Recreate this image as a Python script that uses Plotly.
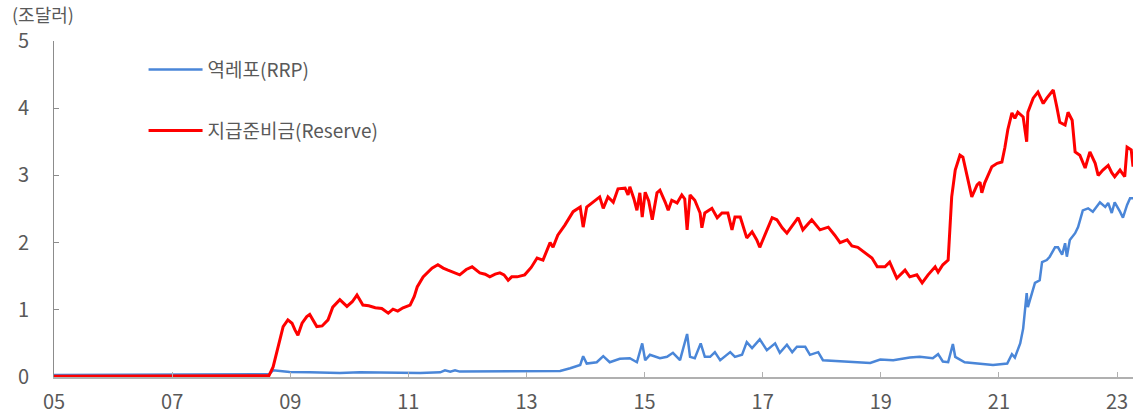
import plotly.graph_objects as go

# Time axis in decimal years
rrp_t = [2005.0, 2005.5, 2006.0, 2006.5, 2007.0, 2007.5, 2008.0, 2008.6,
         2008.64, 2008.71, 2008.79, 2008.99, 2009.33, 2009.84, 2010.18, 2010.69,
         2011.20, 2011.54, 2011.62, 2011.71, 2011.79, 2011.87, 2012.55, 2013.06,
         2013.57, 2013.74, 2013.91, 2013.96, 2014.02, 2014.19, 2014.30, 2014.41,
         2014.58, 2014.75, 2014.87, 2014.96, 2015.01, 2015.09, 2015.26, 2015.38,
         2015.48, 2015.60, 2015.72, 2015.77, 2015.85, 2015.95, 2016.02, 2016.11,
         2016.19, 2016.28, 2016.45, 2016.53, 2016.65, 2016.73, 2016.82, 2016.95,
         2017.07, 2017.21, 2017.29, 2017.41, 2017.50, 2017.58, 2017.72, 2017.80,
         2017.94, 2018.02, 2018.19, 2018.48, 2018.82, 2018.99, 2019.21, 2019.49,
         2019.66, 2019.88, 2019.97, 2020.05, 2020.14, 2020.22, 2020.26, 2020.42,
         2020.68, 2020.90, 2021.14, 2021.22, 2021.27, 2021.36, 2021.41, 2021.47,
         2021.49, 2021.56, 2021.61, 2021.69, 2021.73, 2021.81, 2021.86, 2021.95,
         2022.00, 2022.07, 2022.12, 2022.15, 2022.20, 2022.29, 2022.34, 2022.42,
         2022.51, 2022.59, 2022.71, 2022.80, 2022.85, 2022.91, 2022.96, 2023.05,
         2023.10, 2023.17, 2023.22, 2023.27]
# Reverse repo balance (trillion USD)
rrp_v = [0.03, 0.03, 0.03, 0.03, 0.03, 0.03, 0.03, 0.03,
         0.04, 0.10, 0.09, 0.075, 0.07, 0.06, 0.07, 0.06,
         0.06, 0.07, 0.10, 0.08, 0.10, 0.08, 0.08, 0.09,
         0.09, 0.13, 0.18, 0.31, 0.20, 0.22, 0.31, 0.22,
         0.27, 0.28, 0.22, 0.50, 0.25, 0.33, 0.28, 0.30,
         0.36, 0.25, 0.64, 0.30, 0.28, 0.50, 0.30, 0.30,
         0.37, 0.25, 0.37, 0.30, 0.33, 0.52, 0.43, 0.56,
         0.40, 0.50, 0.36, 0.48, 0.37, 0.45, 0.45, 0.33,
         0.37, 0.25, 0.24, 0.22, 0.21, 0.26, 0.25, 0.29,
         0.30, 0.28, 0.34, 0.23, 0.22, 0.49, 0.30, 0.22,
         0.20, 0.18, 0.20, 0.34, 0.29, 0.50, 0.72, 1.25,
         1.04, 1.25, 1.40, 1.44, 1.71, 1.74, 1.79, 1.93,
         1.93, 1.82, 1.99, 1.79, 2.04, 2.14, 2.23, 2.48,
         2.51, 2.46, 2.60, 2.53, 2.59, 2.44, 2.60, 2.46,
         2.37, 2.56, 2.66, 2.66]

res_t = [2005.0, 2005.5, 2006.0, 2006.5, 2007.0, 2007.5, 2008.0, 2008.5, 2008.64,
         2008.71, 2008.79, 2008.88, 2008.96, 2009.03, 2009.08, 2009.13, 2009.20,
         2009.28, 2009.33, 2009.40, 2009.45, 2009.54, 2009.64, 2009.72, 2009.84,
         2009.96, 2010.05, 2010.13, 2010.23, 2010.33, 2010.44, 2010.55, 2010.66,
         2010.74, 2010.82, 2010.91, 2011.03, 2011.10, 2011.15, 2011.25, 2011.40,
         2011.50, 2011.59, 2011.67, 2011.77, 2011.87, 2011.98, 2012.08, 2012.21,
         2012.30, 2012.38, 2012.47, 2012.55, 2012.62, 2012.69, 2012.75, 2012.84,
         2012.97, 2013.08, 2013.18, 2013.28, 2013.40, 2013.45, 2013.53, 2013.65,
         2013.79, 2013.91, 2013.96, 2014.02, 2014.13, 2014.24, 2014.30, 2014.38,
         2014.47, 2014.55, 2014.67, 2014.72, 2014.75, 2014.82, 2014.87, 2014.92,
         2014.96, 2015.01, 2015.07, 2015.13, 2015.21, 2015.26, 2015.35, 2015.40,
         2015.46, 2015.55, 2015.63, 2015.68, 2015.72, 2015.77, 2015.85, 2015.94,
         2015.97, 2016.02, 2016.14, 2016.23, 2016.31, 2016.41, 2016.48, 2016.53,
         2016.62, 2016.73, 2016.82, 2016.90, 2016.95, 2017.04, 2017.16, 2017.24,
         2017.33, 2017.41, 2017.51, 2017.60, 2017.68, 2017.83, 2017.97, 2018.11,
         2018.22, 2018.31, 2018.43, 2018.51, 2018.61, 2018.73, 2018.85, 2018.94,
         2019.07, 2019.15, 2019.27, 2019.41, 2019.49, 2019.61, 2019.70, 2019.80,
         2019.92, 2019.97, 2020.05, 2020.14, 2020.20, 2020.26, 2020.34, 2020.39,
         2020.46, 2020.54, 2020.63, 2020.68, 2020.71, 2020.76, 2020.88, 2020.97,
         2021.05, 2021.10, 2021.15, 2021.22, 2021.27, 2021.32, 2021.41, 2021.47,
         2021.49, 2021.58, 2021.66, 2021.75, 2021.81, 2021.92, 2021.98, 2022.03,
         2022.12, 2022.17, 2022.24, 2022.29, 2022.37, 2022.46, 2022.54, 2022.63,
         2022.68, 2022.76, 2022.85, 2022.91, 2022.96, 2023.05, 2023.13, 2023.17,
         2023.24, 2023.27]
# Bank reserves (trillion USD)
res_v = [0.01, 0.01, 0.02, 0.01, 0.02, 0.01, 0.02, 0.01, 0.02,
         0.15, 0.45, 0.75, 0.85, 0.80, 0.70, 0.62, 0.80,
         0.90, 0.93, 0.82, 0.75, 0.76, 0.85, 1.04, 1.15,
         1.05, 1.12, 1.22, 1.07, 1.06, 1.03, 1.02, 0.95,
         1.01, 0.98, 1.03, 1.07, 1.20, 1.34, 1.49, 1.62,
         1.67, 1.62, 1.59, 1.56, 1.52, 1.60, 1.64, 1.55,
         1.53, 1.49, 1.53, 1.55, 1.52, 1.44, 1.49, 1.49,
         1.52, 1.63, 1.77, 1.74, 2.00, 1.93, 2.11, 2.26,
         2.46, 2.53, 2.23, 2.53, 2.60, 2.68, 2.51, 2.68,
         2.60, 2.80, 2.81, 2.71, 2.83, 2.65, 2.48, 2.74,
         2.38, 2.75, 2.62, 2.34, 2.74, 2.78, 2.60, 2.48,
         2.63, 2.59, 2.71, 2.65, 2.19, 2.71, 2.63, 2.44,
         2.22, 2.44, 2.51, 2.37, 2.44, 2.44, 2.19, 2.38,
         2.38, 2.07, 2.16, 2.04, 1.93, 2.11, 2.37, 2.34,
         2.22, 2.14, 2.26, 2.37, 2.19, 2.34, 2.19, 2.23,
         2.11, 2.00, 2.04, 1.95, 1.93, 1.85, 1.77, 1.64,
         1.64, 1.71, 1.47, 1.59, 1.49, 1.52, 1.40, 1.52,
         1.64, 1.56, 1.67, 1.74, 2.68, 3.08, 3.30, 3.27,
         2.98, 2.68, 2.86, 2.90, 2.74, 2.89, 3.13, 3.18,
         3.20, 3.41, 3.68, 3.93, 3.85, 3.94, 3.87, 3.50,
         3.94, 4.15, 4.24, 4.07, 4.15, 4.27, 4.02, 3.79,
         3.75, 3.94, 3.82, 3.35, 3.30, 3.11, 3.35, 3.18,
         3.00, 3.08, 3.15, 3.04, 2.98, 3.08, 2.98, 3.42,
         3.38, 3.13]

x_ticks = [2005, 2007, 2009, 2011, 2013, 2015, 2017, 2019, 2021, 2023]
x_labels = ["05", "07", "09", "11", "13", "15", "17", "19", "21", "23"]
y_ticks = [0, 1, 2, 3, 4, 5]

FONT = "Noto Sans CJK KR, Noto Sans, sans-serif"
GRAY = "#595959"

fig = go.Figure()
fig.add_trace(go.Scatter(x=rrp_t, y=rrp_v, mode="lines", name="역레포(RRP)",
                         line=dict(color="#4A86D8", width=2.5), legend="legend"))
fig.add_trace(go.Scatter(x=res_t, y=res_v, mode="lines", name="지급준비금(Reserve)",
                         line=dict(color="#FF0000", width=3), legend="legend2"))

legend_style = dict(font=dict(family=FONT, size=19, color=GRAY),
                    bgcolor="rgba(0,0,0,0)", itemwidth=54,
                    xanchor="left", yanchor="middle", xref="paper", yref="paper")

fig.update_layout(
    width=1135, height=419,
    margin=dict(l=54, r=2, t=41, b=42),
    paper_bgcolor="white", plot_bgcolor="white",
    showlegend=True,
    font=dict(family=FONT, size=20, color=GRAY),
    legend=dict(x=0.083, y=0.915, **legend_style),
    legend2=dict(x=0.083, y=0.733, **legend_style),
    xaxis=dict(range=[2005, 2023.27], tickmode="array", tickvals=x_ticks,
               ticktext=x_labels, ticks="inside", ticklen=5, tickcolor="#B0B0B0",
               showline=True, linecolor="#B0B0B0", linewidth=1.5,
               showgrid=False, zeroline=False,
               tickfont=dict(family=FONT, size=20, color=GRAY), ticklabelstandoff=6),
    yaxis=dict(range=[0, 5], tickmode="array", tickvals=y_ticks,
               ticks="inside", ticklen=5, tickcolor="#8C8C8C",
               showline=True, linecolor="#8C8C8C", linewidth=1,
               showgrid=False, zeroline=False,
               tickfont=dict(family=FONT, size=20, color=GRAY), ticklabelstandoff=20),
    annotations=[dict(text="(조달러)", x=-0.041, y=1.0, xref="paper", yref="paper",
                      xanchor="left", yanchor="bottom", yshift=12, showarrow=False,
                      font=dict(family=FONT, size=18, color=GRAY))],
)

fig.write_html("out.html")
